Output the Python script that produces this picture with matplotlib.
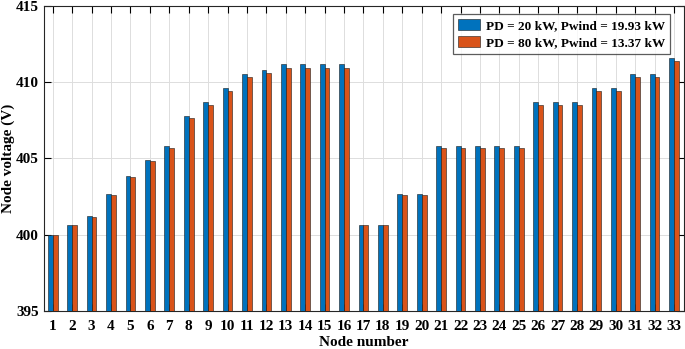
import matplotlib
matplotlib.use("Agg")
import matplotlib.pyplot as plt
import numpy as np

nodes = list(range(1, 34))
v_pd20 = [400.00, 400.66, 401.23, 402.69, 403.87, 404.92, 405.80, 407.79, 408.71, 409.63,
          410.55, 410.83, 411.16, 411.16, 411.16, 411.16, 400.66, 400.66, 402.69, 402.69,
          405.82, 405.82, 405.82, 405.82, 405.82, 408.71, 408.71, 408.71, 409.63, 409.63,
          410.55, 410.55, 411.60]
v_pd80 = [400.00, 400.63, 401.18, 402.63, 403.81, 404.84, 405.69, 407.66, 408.53, 409.41,
          410.35, 410.63, 410.94, 410.94, 410.94, 410.94, 400.65, 400.65, 402.63, 402.63,
          405.69, 405.69, 405.69, 405.69, 405.69, 408.49, 408.49, 408.49, 409.41, 409.41,
          410.35, 410.35, 411.36]
labels = ["PD = 20 kW, Pwind = 19.93 kW", "PD = 80 kW, Pwind = 13.37 kW"]
yticks = [395, 400, 405, 410, 415]

plt.rcParams['font.family'] = ['Liberation Serif', 'DejaVu Serif']
plt.rcParams['font.weight'] = 'bold'

fig = plt.figure(figsize=(6.85, 3.49), dpi=100)
ax = fig.add_axes([0.0642, 0.109, 0.934, 0.874])

x = np.array(nodes)
w = 0.25
ax.bar(x - w/2, np.array(v_pd20) - 395, w, bottom=395, color='#0072BD',
       edgecolor='#1a1a1a', linewidth=0.4, label=labels[0], zorder=3)
ax.bar(x + w/2, np.array(v_pd80) - 395, w, bottom=395, color='#D95319',
       edgecolor='#1a1a1a', linewidth=0.4, label=labels[1], zorder=3)

ax.set_xlim(0.545, 33.5)
ax.set_ylim(395, 415)
ax.set_xticks(nodes)
ax.set_xticklabels([str(n) for n in nodes], fontsize=11, fontweight='bold')
ax.set_yticks(yticks)
ax.set_yticklabels([str(t) for t in yticks], fontsize=11, fontweight='bold')
ax.tick_params(direction='in', top=True, right=True, length=5, width=0.8)
ax.tick_params(axis='x', pad=6.5)
ax.tick_params(axis='y', pad=3.5)
ax.grid(True, color='#dddddd', linewidth=0.7, zorder=0)
ax.set_axisbelow(True)
for s in ax.spines.values():
    s.set_linewidth(0.8)
    s.set_color('#262626')

ax.set_xlabel('Node number', fontsize=11, fontweight='bold', labelpad=2.5)
ax.set_ylabel('Node voltage (V)', fontsize=11, fontweight='bold', labelpad=1)

leg = ax.legend(loc='upper right', fontsize=9.5, frameon=True, fancybox=False,
                handlelength=1.65, handleheight=0.88, handletextpad=0.4,
                borderpad=0.4, labelspacing=0.3, borderaxespad=0,
                bbox_to_anchor=(0.9786, 0.974))
leg.get_frame().set_edgecolor('#333333')
leg.get_frame().set_linewidth(0.9)
for t in leg.get_texts():
    t.set_fontweight('bold')

fig.savefig('out.png', dpi=100)
